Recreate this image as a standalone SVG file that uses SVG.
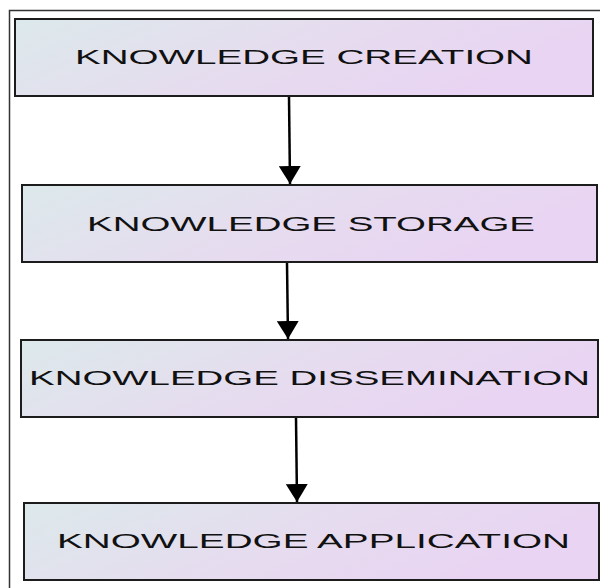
<svg xmlns="http://www.w3.org/2000/svg" width="600" height="588" viewBox="0 0 600 588">
  <defs>
    <linearGradient id="boxFill" x1="0" y1="0" x2="1" y2="0.3">
      <stop offset="0" stop-color="#dce9eb"/>
      <stop offset="0.55" stop-color="#e6dcef"/>
      <stop offset="1" stop-color="#e9d4f3"/>
    </linearGradient>
    <marker id="head" markerUnits="userSpaceOnUse" markerWidth="22" markerHeight="22" refX="18" refY="11" orient="auto">
      <path d="M0,0 L18,11 L0,22 z" fill="#000"/>
    </marker>
  </defs>
  <style>
    .box { fill: url(#boxFill); stroke: #1c1c1c; stroke-width: 2; }
    .label { font-family: "Liberation Sans", Arial, sans-serif; font-size: 21px; fill: #111; }
    .edge { stroke: #000; stroke-width: 2.5; fill: none; marker-end: url(#head); }
  </style>

  <rect width="600" height="588" fill="#fff"/>
  <!-- outer frame -->
  <rect x="9.5" y="10.5" width="600" height="600" fill="none" stroke="#333" stroke-width="1.5"/>

  <g id="creation">
    <rect class="box" x="15" y="19" width="578" height="77"/>
    <text class="label" x="75" y="64" textLength="458" lengthAdjust="spacingAndGlyphs">KNOWLEDGE CREATION</text>
  </g>
  <g id="storage">
    <rect class="box" x="22" y="185" width="575" height="77"/>
    <text class="label" x="87" y="231" textLength="448" lengthAdjust="spacingAndGlyphs">KNOWLEDGE STORAGE</text>
  </g>
  <g id="dissemination">
    <rect class="box" x="21" y="340" width="577" height="77"/>
    <text class="label" x="29" y="385" textLength="561" lengthAdjust="spacingAndGlyphs">KNOWLEDGE DISSEMINATION</text>
  </g>
  <g id="application">
    <rect class="box" x="24" y="503" width="575" height="77"/>
    <text class="label" x="57" y="548" textLength="513" lengthAdjust="spacingAndGlyphs">KNOWLEDGE APPLICATION</text>
  </g>

  <g id="connectors">
    <line class="edge" x1="289" y1="97" x2="290" y2="184"/>
    <line class="edge" x1="287" y1="263" x2="288" y2="339"/>
    <line class="edge" x1="296" y1="418" x2="297" y2="502"/>
  </g>
</svg>
